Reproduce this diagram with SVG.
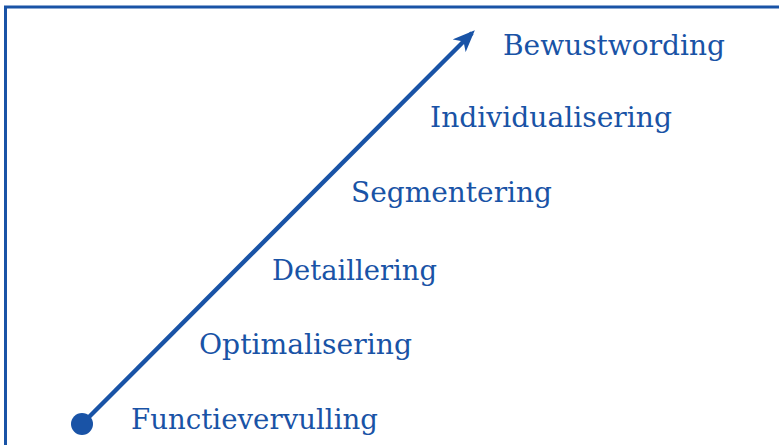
<svg xmlns="http://www.w3.org/2000/svg" width="779" height="445" viewBox="0 0 779 445">
  <style>
    .frame { fill: none; stroke: #1953a6; stroke-width: 3; }
    .stage { font-family: "DejaVu Serif", "Liberation Serif", serif; font-size: 27px; fill: #1953a6; }
    .axis { stroke: #1953a6; stroke-width: 4.4; fill: none; }
  </style>
  <defs>
    <marker id="barb" viewBox="0 0 22 18" refX="18" refY="9" markerWidth="22" markerHeight="18" markerUnits="userSpaceOnUse" orient="auto">
      <path d="M22,9 L0,0 L6,9 L0,18 Z" fill="#1953a6"/>
    </marker>
  </defs>

  <!-- open frame: only top and left edges are visible -->
  <path class="frame" d="M5.5,450 L5.5,7 L790,7"/>

  <!-- growth axis -->
  <g id="connectors">
    <line class="axis" x1="82" y1="424" x2="472" y2="33" marker-end="url(#barb)"/>
    <circle cx="82" cy="424" r="11" fill="#1953a6"/>
  </g>

  <g id="functievervulling"><text class="stage" x="131" y="429" textLength="247" lengthAdjust="spacingAndGlyphs">Functievervulling</text></g>
  <g id="optimalisering"><text class="stage" x="199" y="354" textLength="213" lengthAdjust="spacingAndGlyphs">Optimalisering</text></g>
  <g id="detaillering"><text class="stage" x="272" y="280" textLength="165" lengthAdjust="spacingAndGlyphs">Detaillering</text></g>
  <g id="segmentering"><text class="stage" x="351" y="202" textLength="201" lengthAdjust="spacingAndGlyphs">Segmentering</text></g>
  <g id="individualisering"><text class="stage" x="430" y="127" textLength="242" lengthAdjust="spacingAndGlyphs">Individualisering</text></g>
  <g id="bewustwording"><text class="stage" x="503" y="55" textLength="222" lengthAdjust="spacingAndGlyphs">Bewustwording</text></g>
</svg>
